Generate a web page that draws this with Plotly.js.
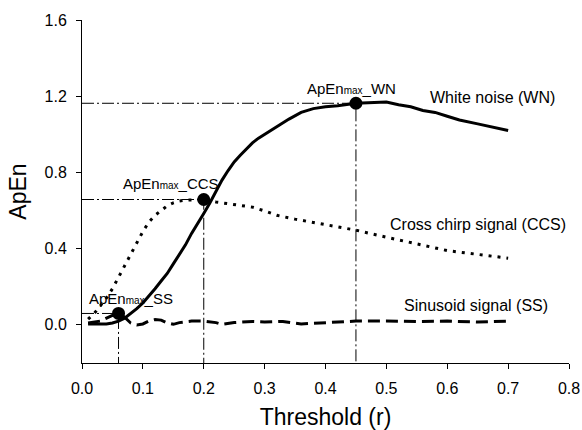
<!DOCTYPE html>
<html>
<head>
<meta charset="utf-8">
<script src="https://cdn.plot.ly/plotly-3.0.1.min.js"></script>
<style>html,body{margin:0;padding:0;background:#fff;}#chart{width:582px;height:430px;}</style>
</head>
<body>
<div id="chart"></div>
<script>
// White noise (WN)
const wnX = [0.01,0.02,0.03,0.04,0.05,0.06,0.07,0.08,0.09,0.10,0.11,0.12,0.13,0.14,0.15,0.16,0.17,0.18,0.19,0.20,0.21,0.22,0.23,0.24,0.25,0.26,0.27,0.28,0.29,0.30,0.32,0.34,0.36,0.38,0.40,0.42,0.45,0.48,0.50,0.52,0.54,0.56,0.58,0.60,0.62,0.65,0.68,0.70];
const wnY = [0.005,0.005,0.005,0.005,0.01,0.02,0.035,0.06,0.085,0.115,0.15,0.19,0.23,0.27,0.32,0.37,0.42,0.48,0.53,0.585,0.64,0.70,0.76,0.81,0.855,0.89,0.925,0.955,0.98,1.0,1.04,1.08,1.115,1.135,1.145,1.15,1.163,1.165,1.17,1.155,1.145,1.125,1.115,1.095,1.075,1.055,1.035,1.02];
// Cross chirp signal (CCS)
const ccsX = [0.01,0.02,0.03,0.04,0.05,0.06,0.07,0.08,0.09,0.10,0.11,0.12,0.13,0.14,0.15,0.16,0.17,0.18,0.19,0.20,0.22,0.25,0.28,0.30,0.32,0.35,0.40,0.45,0.50,0.55,0.60,0.65,0.70];
const ccsY = [0.03,0.06,0.10,0.14,0.19,0.25,0.31,0.37,0.43,0.49,0.54,0.575,0.60,0.625,0.64,0.65,0.655,0.657,0.658,0.658,0.645,0.633,0.618,0.598,0.575,0.555,0.527,0.497,0.46,0.425,0.39,0.37,0.35];
// Sinusoid signal (SS)
const ssX = [0.01,0.03,0.05,0.06,0.07,0.08,0.09,0.10,0.11,0.12,0.13,0.14,0.15,0.16,0.18,0.20,0.22,0.23,0.25,0.28,0.30,0.33,0.36,0.40,0.43,0.45,0.50,0.55,0.60,0.65,0.70];
const ssY = [0.01,0.02,0.05,0.06,0.04,0.01,0.0,0.005,0.02,0.028,0.025,0.01,0.003,0.012,0.02,0.02,0.012,0.003,0.012,0.018,0.015,0.018,0.005,0.013,0.016,0.02,0.02,0.018,0.02,0.015,0.02];
// ApEn max points
const peakNames = ['WN','CCS','SS'];
const peakX = [0.45,0.20,0.06];
const peakY = [1.163,0.658,0.06];
// Labels
const seriesLabels = ['White noise (WN)','Cross chirp signal (CCS)','Sinusoid signal (SS)'];
const seriesLabelX = [0.675,0.65,0.648];
const seriesLabelY = [1.195,0.526,0.10];
const peakLabelX = [0.443,0.146,0.081];
const peakLabelY = [1.24,0.742,0.137];
const yMin = -0.2, yMax = 1.6;
const xTicks = [0,0.1,0.2,0.3,0.4,0.5,0.6,0.7,0.8];
const yTicks = [0,0.4,0.8,1.2,1.6];

const FONT = 'Arial, "Liberation Sans", sans-serif';
const traces = [];
// dash-dot reference lines
for (let i = 0; i < peakX.length; i++) {
  traces.push({x:[0, peakX[i], peakX[i]], y:[peakY[i], peakY[i], yMin], mode:'lines', type:'scatter',
    line:{color:'#000', width:1, dash:'12px,3px,2px,3px'}, hoverinfo:'skip', showlegend:false, cliponaxis:false});
}
traces.push({x:ccsX, y:ccsY, mode:'lines', type:'scatter', line:{color:'#000', width:3, dash:'3px,6px'}, showlegend:false});
traces.push({x:ssX, y:ssY, mode:'lines', type:'scatter', line:{color:'#000', width:3, dash:'12px,6px'}, showlegend:false});
traces.push({x:wnX, y:wnY, mode:'lines', type:'scatter', line:{color:'#000', width:3}, showlegend:false});
traces.push({x:peakX, y:peakY, mode:'markers', type:'scatter', marker:{color:'#000', size:13}, showlegend:false});

const annotations = [];
for (let i = 0; i < seriesLabels.length; i++) {
  annotations.push({x:seriesLabelX[i], y:seriesLabelY[i], text:seriesLabels[i], showarrow:false,
    font:{family:FONT, size:16, color:'#000'}});
}
for (let i = 0; i < peakNames.length; i++) {
  annotations.push({x:peakLabelX[i], y:peakLabelY[i],
    text:'ApEn<span style="font-size:10px">max</span>_' + peakNames[i], showarrow:false,
    font:{family:FONT, size:15, color:'#000'}});
}

const layout = {
  width:582, height:430,
  margin:{l:82, r:13, t:20, b:67},
  paper_bgcolor:'#fff', plot_bgcolor:'#fff',
  font:{family:FONT, color:'#000'},
  showlegend:false,
  xaxis:{range:[0,0.8], tickvals:xTicks, tickformat:'.1f', ticks:'outside', ticklen:5, tickcolor:'#000',
    showline:true, linecolor:'#000', linewidth:1, showgrid:false, zeroline:false, ticklabelstandoff:6,
    tickfont:{family:FONT, size:16, color:'#000'},
    title:{text:'Threshold (r)', font:{family:FONT, size:23, color:'#000'}}},
  yaxis:{range:[yMin,yMax], tickvals:yTicks, tickformat:'.1f', ticks:'outside', ticklen:5, tickcolor:'#000',
    showline:true, linecolor:'#000', linewidth:1, showgrid:false, zeroline:false, ticklabelstandoff:6,
    tickfont:{family:FONT, size:16, color:'#000'},
    title:{text:'ApEn', font:{family:FONT, size:23, color:'#000'}}},
  annotations:annotations
};
Plotly.newPlot('chart', traces, layout, {displayModeBar:false, staticPlot:true});
</script>
</body>
</html>
